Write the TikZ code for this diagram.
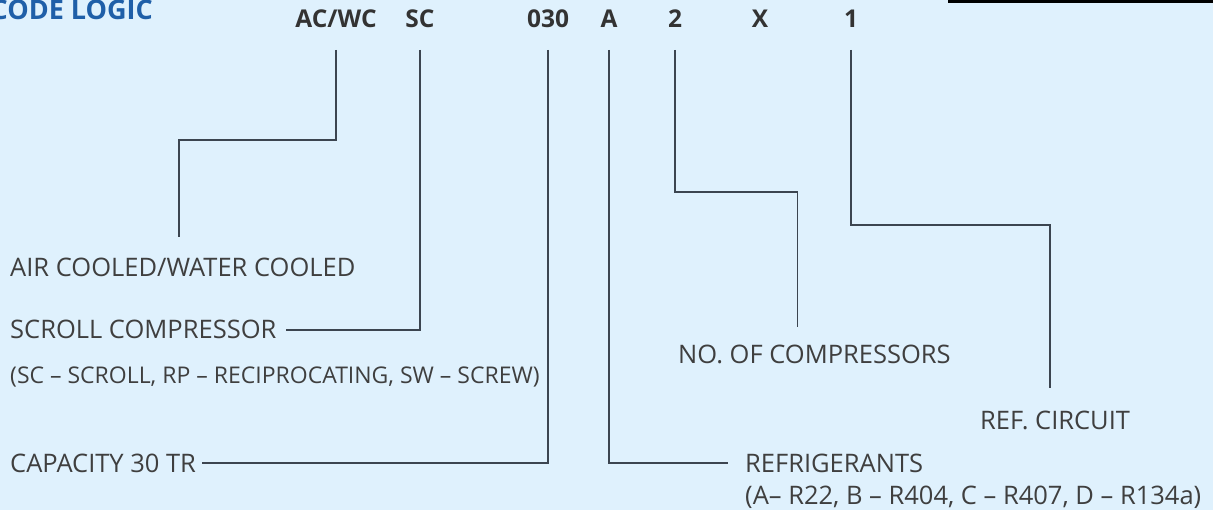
\documentclass[tikz,border=0pt]{standalone}
\usepackage{fontspec}
\setmainfont{Open Sans}
\definecolor{bgc}{HTML}{DFF1FD}
\definecolor{titlec}{HTML}{1F5FA8}
\definecolor{codec}{HTML}{333333}
\definecolor{textc}{HTML}{3F3F3F}
\definecolor{linec}{HTML}{3C4550}
\begin{document}
\begin{tikzpicture}[x=1pt,y=-1pt,
  code/.style={font=\fontsize{24.5}{26}\selectfont\bfseries, text=codec, inner sep=0pt, anchor=base},
  desc/.style={font=\fontsize{25.5}{27}\selectfont, text=textc, inner sep=0pt, anchor=base west},
  conn/.style={draw=linec, line width=1.8pt}]
	\useasboundingbox (0,0) rectangle (1213,510);
	\clip (0,0) rectangle (1213,510);
	\fill[bgc] (0,0) rectangle (1213,510);
	\fill[black] (948,0) rectangle (1213,3.5);
	\node[font=\fontsize{27}{28}\selectfont\bfseries, text=titlec, inner sep=0pt, anchor=base east] (title) at (153,20) {CODE LOGIC};
	\coordinate (lntop) at (0,50);
	\node[code] (acwc) at (336,28) {AC/WC};
	\node[code] (sc) at (420,28) {SC};
	\node[code] (cap) at (548,28) {030};
	\node[code] (refa) at (609,28) {A};
	\node[code] (two) at (675,28) {2};
	\node[code] (xx) at (760,28) {X};
	\node[code] (one) at (851,28) {1};
	\node[desc] (air) at (10,277) {AIR COOLED/WATER COOLED};
	\node[desc] (scroll) at (10,339) {SCROLL COMPRESSOR};
	\node[desc, font=\fontsize{23}{25}\selectfont] (scrollkey) at (10,384) {(SC -- SCROLL, RP -- RECIPROCATING, SW -- SCREW)};
	\node[desc] (capacity) at (10,472) {CAPACITY 30 TR};
	\node[desc] (refrig) at (745,472) {REFRIGERANTS};
	\node[desc] (refkey) at (745,504) {(A-- R22, B -- R404, C -- R407, D -- R134a)};
	\node[desc] (ncomp) at (678,364) {NO. OF COMPRESSORS};
	\node[desc] (circuit) at (980,429) {REF. CIRCUIT};
	\draw[conn] (acwc |- lntop) -- (acwc |- 0,140) -| ([xshift=-4pt,yshift=21pt]air.north);
	\draw[conn, shorten >=9pt] (sc |- lntop) |- (scroll.east);
	\draw[conn, shorten >=6pt] (cap |- lntop) |- (capacity.east);
	\draw[conn, shorten >=17pt] (refa |- lntop) |- (refrig.west);
	\draw[conn] (two |- lntop) -- (two |- 0,192) -| ([xshift=-17pt,yshift=18pt]ncomp.north);
	\draw[conn] (one |- lntop) -- (one |- 0,225) -| ([xshift=-5pt,yshift=22pt]circuit.north);
\end{tikzpicture}
\end{document}
